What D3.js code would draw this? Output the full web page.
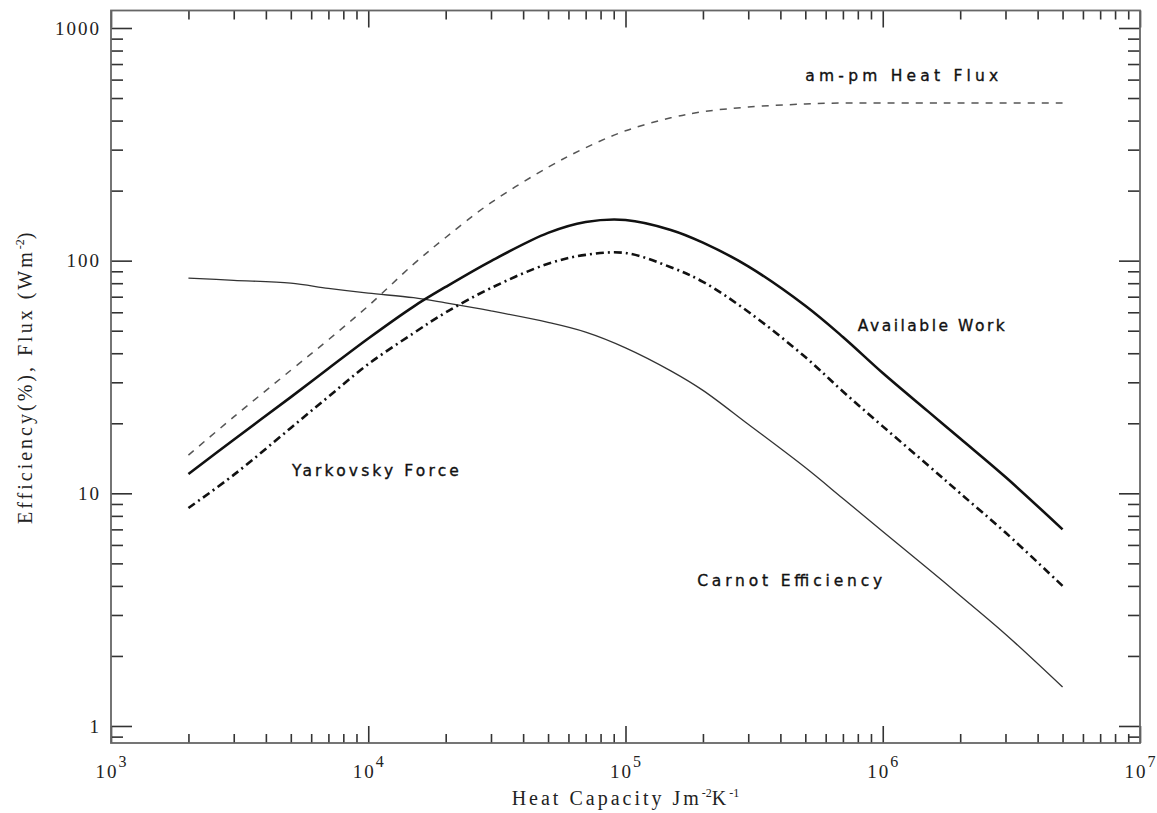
<!DOCTYPE html>
<html>
<head>
<meta charset="utf-8">
<script src="https://cdn.jsdelivr.net/npm/d3@7"></script>
<style>
  body { margin: 0; background: #fff; }
  svg { display: block; }
</style>
</head>
<body>
<div id="chart"></div>
<script>
// values (log-log axes)
const heatCapacity = [2e3, 3e3, 5e3, 7e3, 1e4, 1.5e4, 2e4, 3e4, 5e4, 7e4, 1e5, 1.5e5, 2e5, 3e5, 5e5, 7e5, 1e6, 1.5e6, 2e6, 3e6, 5e6];
const heatFlux = [14.6, 21.3, 33.8, 45.7, 63.9, 96.6, 125.8, 177.5, 251.9, 305.9, 361.5, 411, 436.6, 457.4, 471.4, 476, 476, 476, 476, 476, 476];
const availableWork = [12.1, 17.0, 25.9, 34.4, 46.3, 63.5, 77.1, 99.6, 131.6, 146.6, 149.6, 135.6, 119.6, 94.5, 64, 47, 32.9, 22.5, 17.2, 11.75, 7.0];
const yarkovskyForce = [8.65, 12.0, 19.1, 26, 35.9, 48.8, 59.9, 76.3, 97, 105.9, 107.9, 93.7, 81.1, 60.3, 38.5, 27.4, 19.4, 13.2, 10.0, 6.78, 4.0];
const carnotEfficiency = [84.2, 82.3, 80, 76, 72.5, 69.3, 65.8, 60.8, 54.3, 49.3, 42.2, 33.6, 27.7, 19.8, 12.9, 9.5, 6.86, 4.74, 3.63, 2.48, 1.47];

const xMajorTicks = [1e3, 1e4, 1e5, 1e6, 1e7];
const xTickExponents = ['3', '4', '5', '6', '7'];
const yMajorTicks = [1, 10, 100, 1000];
const yTickLabels = ['1', '10', '100', '1000'];

const labels = ['am-pm Heat Flux', 'Available Work', 'Yarkovsky Force', 'Carnot Efficiency'];
const labelX = [5.0e5, 8.0e5, 5.05e3, 1.9e5];
const labelY = [628, 52.9, 12.6, 4.24];

const W = 1157, H = 813;
const plot = { left: 111, right: 1140, top: 10.5, bottom: 743 };

const svg = d3.select('#chart').append('svg')
    .attr('width', W)
    .attr('height', H);

const x = d3.scaleLog().domain([1e3, 1e7]).range([plot.left, plot.right]);
const y = d3.scaleLog().domain([0.845, 1189]).range([plot.bottom, plot.top]);

const isMajor = v => Math.abs(Math.log10(v) - Math.round(Math.log10(v))) < 1e-9;
const xMinor = x.ticks().filter(v => !isMajor(v));
const yMinor = y.ticks().filter(v => !isMajor(v));

// axes with inward ticks on all four sides
function tickAxis(axisFn, scale, values, size, transform) {
    const g = svg.append('g')
        .attr('transform', transform)
        .call(axisFn(scale).tickValues(values).tickSize(-size).tickFormat(''));
    g.select('.domain').remove();
    g.selectAll('line').attr('stroke', '#333').attr('stroke-width', 1.6);
}
tickAxis(d3.axisBottom, x, xMajorTicks, 17, `translate(0,${plot.bottom})`);
tickAxis(d3.axisBottom, x, xMinor, 9, `translate(0,${plot.bottom})`);
tickAxis(d3.axisTop, x, xMajorTicks, 17, `translate(0,${plot.top})`);
tickAxis(d3.axisTop, x, xMinor, 9, `translate(0,${plot.top})`);
tickAxis(d3.axisLeft, y, yMajorTicks, 21, `translate(${plot.left},0)`);
tickAxis(d3.axisLeft, y, yMinor, 12, `translate(${plot.left},0)`);
tickAxis(d3.axisRight, y, yMajorTicks, 21, `translate(${plot.right},0)`);
tickAxis(d3.axisRight, y, yMinor, 12, `translate(${plot.right},0)`);

svg.append('rect')
    .attr('x', plot.left).attr('y', plot.top)
    .attr('width', plot.right - plot.left).attr('height', plot.bottom - plot.top)
    .attr('fill', 'none')
    .attr('stroke', '#666')
    .attr('stroke-width', 1.8);

// tick labels
const serif = '"Liberation Serif", "DejaVu Serif", serif';

svg.append('g').selectAll('text')
    .data(yMajorTicks)
    .join('text')
    .attr('x', plot.left - 10)
    .attr('y', d => y(d))
    .attr('dy', '0.35em')
    .attr('text-anchor', 'end')
    .style('font-family', serif)
    .style('font-size', '19px')
    .style('letter-spacing', '2px')
    .attr('fill', '#222')
    .text((d, i) => yTickLabels[i]);

const xl = svg.append('g').selectAll('text')
    .data(xMajorTicks)
    .join('text')
    .attr('x', d => x(d))
    .attr('y', plot.bottom + 35)
    .attr('text-anchor', 'middle')
    .style('font-family', serif)
    .style('font-size', '19px')
    .attr('fill', '#222');
xl.append('tspan').style('letter-spacing', '2px').text('10');
xl.append('tspan')
    .attr('dy', -11)
    .style('font-size', '16px')
    .text((d, i) => xTickExponents[i]);

// axis titles
const xt = svg.append('text')
    .attr('x', (plot.left + plot.right) / 2)
    .attr('y', 805)
    .attr('text-anchor', 'middle')
    .style('font-family', serif)
    .style('font-size', '20px')
    .style('letter-spacing', '3px')
    .attr('fill', '#222');
xt.append('tspan').text('Heat Capacity Jm');
xt.append('tspan').attr('dy', -8).style('font-size', '12px').style('letter-spacing', '0px').text('-2');
xt.append('tspan').attr('dy', 8).text('K');
xt.append('tspan').attr('dy', -8).style('font-size', '12px').style('letter-spacing', '0px').text('-1');

const yt = svg.append('text')
    .attr('transform', `translate(32,${(plot.top + plot.bottom) / 2}) rotate(-90)`)
    .attr('text-anchor', 'middle')
    .style('font-family', serif)
    .style('font-size', '20px')
    .style('letter-spacing', '3px')
    .attr('fill', '#222');
yt.append('tspan').text('Efficiency(%), Flux (Wm');
yt.append('tspan').attr('dy', -8).style('font-size', '12px').style('letter-spacing', '0px').text('-2');
yt.append('tspan').attr('dy', 8).text(')');

// curves
const line = d3.line()
    .x(d => x(d[0]))
    .y(d => y(d[1]))
    .curve(d3.curveCatmullRom.alpha(0.5));

const series = [
    { values: heatFlux, stroke: '#555', width: 1.5, dash: '7,7' },
    { values: carnotEfficiency, stroke: '#333', width: 1.3, dash: null },
    { values: yarkovskyForce, stroke: '#111', width: 2.6, dash: '8,4,2,4' },
    { values: availableWork, stroke: '#111', width: 2.6, dash: null }
];

svg.append('g').selectAll('path')
    .data(series)
    .join('path')
    .attr('d', s => line(heatCapacity.map((h, i) => [h, s.values[i]])))
    .attr('fill', 'none')
    .attr('stroke', s => s.stroke)
    .attr('stroke-width', s => s.width)
    .attr('stroke-dasharray', s => s.dash)
    .attr('stroke-linejoin', 'round');

// curve labels
const labelWidths = [193, 147, 167, 185];
svg.append('g').selectAll('text')
    .data(labels)
    .join('text')
    .attr('x', (d, i) => x(labelX[i]))
    .attr('y', (d, i) => y(labelY[i]))
    .attr('dy', '0.36em')
    .attr('textLength', (d, i) => labelWidths[i])
    .attr('lengthAdjust', 'spacing')
    .style('font-family', '"DejaVu Sans", sans-serif')
    .style('font-size', '15.5px')
    .attr('fill', '#111')
    .attr('stroke', '#111')
    .attr('stroke-width', 0.35)
    .text(d => d);
</script>
</body>
</html>
